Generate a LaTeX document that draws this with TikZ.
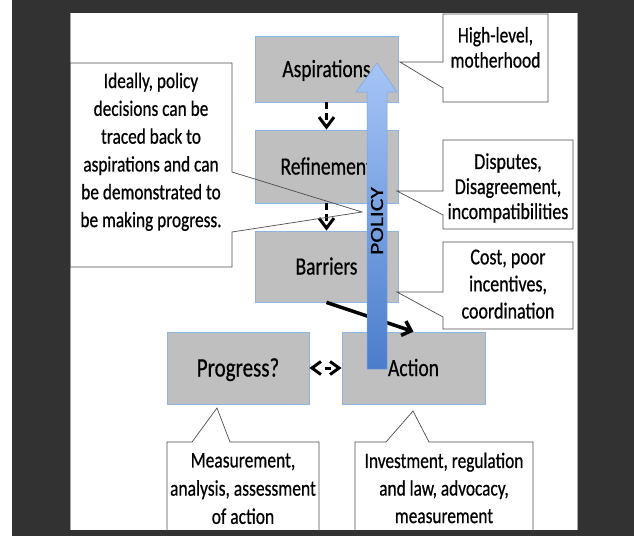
\documentclass[tikz,border=0pt]{standalone}
\usepackage{fontspec}
\setmainfont{Carlito}[FakeBold=0.7]
\usepackage{graphicx}
\usetikzlibrary{arrows.meta}
\definecolor{bgdark}{HTML}{323232}
\definecolor{paneledge}{HTML}{A6A6A6}
\definecolor{boxgray}{HTML}{BFBFBF}
\definecolor{boxblue}{HTML}{8DB4E2}
\definecolor{callline}{HTML}{4D4D4D}
\definecolor{poltop}{HTML}{A6C5F6}
\definecolor{polbot}{HTML}{4A7DCB}
\definecolor{poledge}{HTML}{7FA3DD}
\newcommand\vtxt[1]{\scalebox{1}[1.27]{\begin{tabular}{@{}c@{}}#1\end{tabular}}}
\begin{document}
\begin{tikzpicture}[x=1pt,y=-1pt,
  stagebox/.style={draw=boxblue, fill=boxgray, line width=0.8pt, inner sep=0pt,
    minimum width=143pt, text height=16pt, text depth=0pt,
    font=\fontsize{19.5}{23}\selectfont},
  calloutshape/.style={draw=callline, line width=0.7pt},
  calltext/.style={inner sep=0pt},
  flowarrow/.style={line width=3pt, dash pattern=on 7pt off 4pt,
    -{Straight Barb[length=10pt,width=15pt]}},
  pusharrow/.style={line width=3.5pt, -{Straight Barb[length=8pt,width=15pt]}},
  biarrow/.style={line width=3pt, dash pattern=on 0pt off 12pt on 6pt off 30pt,
    {Straight Barb[length=9pt,width=13pt]}-{Straight Barb[length=9pt,width=13pt]}}
]
\useasboundingbox (0,0) rectangle (634,536);
% background
\fill[white] (0,0) rectangle (634,536);
\fill[bgdark] (12,0) rectangle (634,536);
\fill[white] (70,13) rectangle (577,530);
\draw[paneledge, line width=1pt] (70,13) -- (70,530);
\draw[paneledge, line width=1pt] (577,13) -- (577,530);

% stage boxes
\node[stagebox, minimum height=66pt] (asp) at (326.5,69) {\scalebox{1}[1.27]{Aspirations}};
\node[stagebox, minimum height=73pt] (ref) at (326.5,166.5) {\scalebox{1}[1.27]{Refinement}};
\node[stagebox, minimum height=71pt] (bar) at (326.5,266.5) {\scalebox{1}[1.27]{Barriers}};
\node[stagebox, minimum width=142pt, minimum height=72pt, text height=17pt,
      font=\fontsize{21}{24}\selectfont] (prog) at (238,368) {\scalebox{1}[1.27]{Progress?}};
\node[stagebox, minimum height=72pt] (act) at (413.5,368) {\scalebox{1}[1.27]{Action}};

% connectors
\draw[flowarrow] (asp) -- (ref);
\draw[flowarrow] (ref) -- (bar);
\draw[pusharrow] (bar.south) -- (act.north);
\draw[biarrow] (prog) -- (act);

% callouts
\begin{scope}
\clip (70,13) rectangle (577,530);
\draw[calloutshape] (70,63) -- (232,63) -- (232,172) -- (362,212) -- (232,232) -- (232,267) -- (70,267) -- cycle;
\draw[calloutshape] (443,14) -- (548,14) -- (548,102) -- (443,102) -- (443,88) -- (400,62) -- (443,62) -- cycle;
\draw[calloutshape] (443,140) -- (573,140) -- (573,229) -- (443,229) -- (443,215) -- (397,191) -- (443,191) -- cycle;
\draw[calloutshape] (443,242) -- (573,242) -- (573,329) -- (443,329) -- (443,317) -- (397,292) -- (443,292) -- cycle;
\draw[calloutshape] (167,442) -- (192,442) -- (217,408) -- (230,442) -- (319,442) -- (319,560) -- (167,560) -- cycle;
\draw[calloutshape] (355,442) -- (386,442) -- (413,411) -- (429,442) -- (533,442) -- (533,560) -- (355,560) -- cycle;
\end{scope}

% policy arrow
\shade[top color=poltop, bottom color=polbot, draw=poledge, line width=0.5pt]
  (367,369) -- (367,92) -- (356,92) -- (377,63) -- (397,92) -- (387,92) -- (387,369) -- cycle;
\node[rotate=90, inner sep=0pt, font=\fontsize{18.6}{20}\selectfont] (pol) at (377,221) {\scalebox{1.27}[1]{POLICY}};

% callout texts
\node[calltext, font=\fontsize{17.3}{21.9}\selectfont] (ideal) at (151,152)
  {\vtxt{Ideally, policy\\decisions can be\\traced back to\\aspirations and can\\be demonstrated to\\be making progress.}};
\node[calltext, font=\fontsize{17.5}{19.7}\selectfont] (high) at (495.5,50)
  {\vtxt{High-level,\\motherhood}};
\node[calltext, font=\fontsize{18}{19.7}\selectfont] (disp) at (508,189)
  {\vtxt{Disputes,\\Disagreement,\\incompatibilities}};
\node[calltext, font=\fontsize{18}{21.3}\selectfont] (cost) at (508,286)
  {\vtxt{Cost, poor\\incentives,\\coordination}};
\node[calltext, font=\fontsize{17.5}{22.2}\selectfont] (meas) at (243,490)
  {\vtxt{Measurement,\\analysis, assessment\\of action}};
\node[calltext, font=\fontsize{17.3}{21.7}\selectfont] (inv) at (444,490)
  {\vtxt{Investment, regulation\\and law, advocacy,\\measurement}};
\end{tikzpicture}
\end{document}
